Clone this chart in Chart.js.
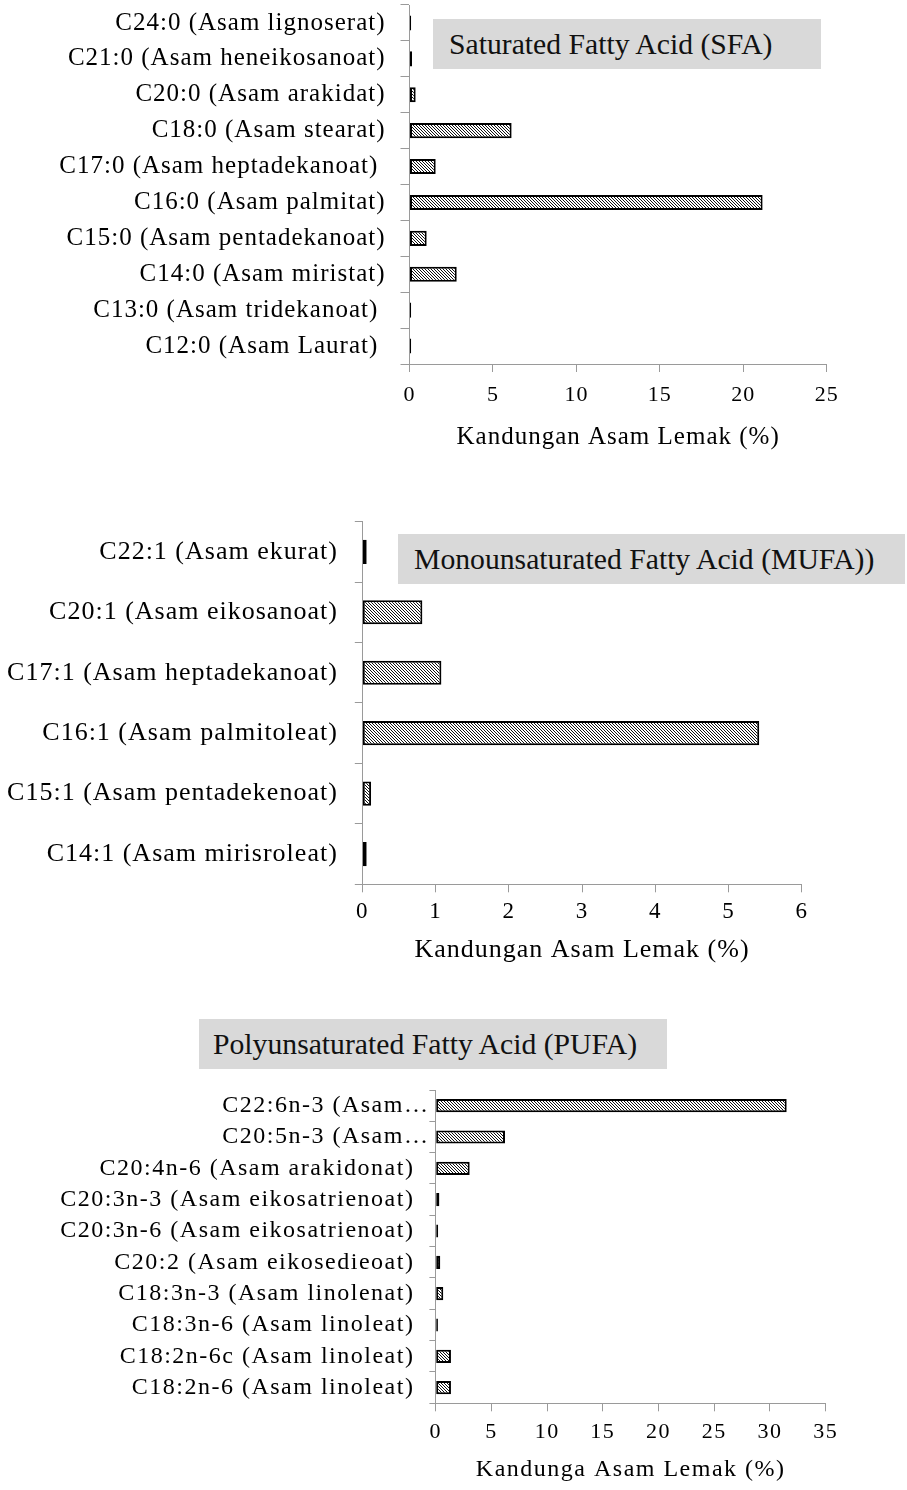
<!DOCTYPE html>
<html>
<head>
<meta charset="utf-8">
<script src="https://cdn.jsdelivr.net/npm/chart.js@4/dist/chart.umd.min.js"></script>
<style>
    body { margin: 0; background: #fff; }
    #page { position: relative; width: 907px; height: 1490px; overflow: hidden; }
    canvas { position: absolute; left: 0; }
    .box {
        position: absolute;
        background: #d9d9d9;
        font-family: "Liberation Serif", "Times New Roman", serif;
        font-size: 29.7px;
        color: #111;
        height: 50px;
        line-height: 50px;
        white-space: nowrap;
        box-sizing: border-box;
    }
</style>
</head>
<body>
<div id="page">
    <canvas id="sfaChart" style="top:0px"></canvas>
    <canvas id="mufaChart" style="top:480px"></canvas>
    <canvas id="pufaChart" style="top:1080px"></canvas>
    <div class="box" style="left:433px; top:19px; width:388px; padding-left:16px;">Saturated Fatty Acid (SFA)</div>
    <div class="box" style="left:398px; top:534px; width:507px; padding-left:16px;">Monounsaturated Fatty Acid (MUFA))</div>
    <div class="box" style="left:199px; top:1019px; width:468px; padding-left:14px;">Polyunsaturated Fatty Acid (PUFA)</div>
</div>
<script>
// SFA (top to bottom)
const sfaLabels = [
    "C24:0 (Asam lignoserat)",
    "C21:0 (Asam heneikosanoat)",
    "C20:0 (Asam arakidat)",
    "C18:0 (Asam stearat)",
    "C17:0 (Asam heptadekanoat) ",
    "C16:0 (Asam palmitat)",
    "C15:0 (Asam pentadekanoat)",
    "C14:0 (Asam miristat)",
    "C13:0 (Asam tridekanoat) ",
    "C12:0 (Asam Laurat) "
];
const sfaValues = [0.1, 0.15, 0.37, 6.12, 1.57, 21.16, 1.03, 2.83, 0.1, 0.1];

// MUFA
const mufaLabels = [
    "C22:1 (Asam ekurat)",
    "C20:1 (Asam eikosanoat)",
    "C17:1 (Asam heptadekanoat)",
    "C16:1 (Asam palmitoleat)",
    "C15:1 (Asam pentadekenoat)",
    "C14:1 (Asam mirisroleat)"
];
const mufaValues = [0.06, 0.82, 1.08, 5.42, 0.12, 0.06];

// PUFA
const pufaLabels = [
    "C22:6n-3 (Asam…",
    "C20:5n-3 (Asam…",
    "C20:4n-6 (Asam arakidonat)",
    "C20:3n-3 (Asam eikosatrienoat)",
    "C20:3n-6 (Asam eikosatrienoat)",
    "C20:2 (Asam eikosedieoat)",
    "C18:3n-3 (Asam linolenat)",
    "C18:3n-6 (Asam linoleat)",
    "C18:2n-6c (Asam linoleat)",
    "C18:2n-6 (Asam linoleat)"
];
const pufaValues = [31.5, 6.22, 3.05, 0.33, 0.22, 0.41, 0.68, 0.2, 1.37, 1.37];

const FONT = "'Liberation Serif', 'Times New Roman', serif";
const AXIS_GRAY = "#9a9a9a";

function hatchPattern() {
    const c = document.createElement("canvas");
    c.width = 3;
    c.height = 3;
    const g = c.getContext("2d");
    g.fillStyle = "#fff";
    g.fillRect(0, 0, 3, 3);
    g.fillStyle = "#111";
    for (let i = 0; i < 3; i++) g.fillRect(i, i, 1, 1);
    return g.createPattern(c, "repeat");
}

// the text in the picture is a bit wider than the plain font
const spacingPlugin = {
    id: "spacing",
    beforeLayout(chart, args, opts) { chart.ctx.letterSpacing = opts.px + "px"; },
    beforeDraw(chart, args, opts) { chart.ctx.letterSpacing = opts.px + "px"; }
};

function renderBars(id, cfg) {
    const canvas = document.getElementById(id);
    canvas.width = 907;
    canvas.height = cfg.height;
    canvas.style.width = "907px";
    canvas.style.height = cfg.height + "px";

    return new Chart(canvas.getContext("2d"), {
        type: "bar",
        data: {
            labels: cfg.labels,
            datasets: [{
                data: cfg.values,
                backgroundColor: hatchPattern(),
                borderColor: "#000",
                borderWidth: 2,
                borderSkipped: false,
                categoryPercentage: 1,
                barPercentage: cfg.barPct
            }]
        },
        plugins: [spacingPlugin],
        options: {
            indexAxis: "y",
            responsive: false,
            animation: false,
            layout: { padding: { top: cfg.padTop, right: cfg.padRight, left: 0, bottom: 0 } },
            plugins: {
                legend: { display: false },
                tooltip: { enabled: false },
                spacing: { px: cfg.spacing }
            },
            scales: {
                y: {
                    offset: true,
                    grid: {
                        offset: true,
                        drawOnChartArea: false,
                        tickLength: cfg.yTick,
                        color: AXIS_GRAY
                    },
                    border: { color: AXIS_GRAY },
                    ticks: {
                        autoSkip: false,
                        padding: cfg.labelPad,
                        color: "#000",
                        font: { family: FONT, size: cfg.labelSize },
                        callback: cfg.labelFmt || function (v, i) { return cfg.labels[i]; }
                    },
                    afterFit(s) {
                        s.width = cfg.axisLeft;
                        s.paddingTop = 0;
                        s.paddingBottom = 0;
                    }
                },
                x: {
                    min: 0,
                    max: cfg.max,
                    grid: {
                        drawOnChartArea: false,
                        tickLength: 8,
                        color: AXIS_GRAY
                    },
                    border: { color: AXIS_GRAY },
                    ticks: {
                        stepSize: cfg.step,
                        padding: cfg.tickPad,
                        color: "#000",
                        font: { family: FONT, size: cfg.tickSize }
                    },
                    title: {
                        display: true,
                        text: cfg.title,
                        color: "#000",
                        font: { family: FONT, size: cfg.titleSize },
                        padding: { top: 0, bottom: cfg.titlePad }
                    },
                    afterFit(s) {
                        s.height = cfg.axisHeight;
                        s.paddingLeft = 0;
                        s.paddingRight = 0;
                    }
                }
            }
        }
    });
}

renderBars("sfaChart", {
    labels: sfaLabels, values: sfaValues,
    height: 460, padTop: 5, padRight: 80.3,
    axisLeft: 409.5, axisHeight: 96,
    max: 25, step: 5, barPct: 0.42,
    yTick: 9, labelPad: 15, labelSize: 25,
    tickSize: 22, tickPad: 10,
    title: "Kandungan Asam Lemak (%)", titleSize: 25, titlePad: 8,
    spacing: 1
});

renderBars("mufaChart", {
    labels: mufaLabels, values: mufaValues,
    height: 500, padTop: 41.6, padRight: 105.3,
    axisLeft: 362.3, axisHeight: 95.7,
    max: 6, step: 1, barPct: 0.40,
    yTick: 7.5, labelPad: 17, labelSize: 26,
    tickSize: 23, tickPad: 6,
    title: "Kandungan Asam Lemak (%)", titleSize: 26, titlePad: 14,
    spacing: 1
});

renderBars("pufaChart", {
    labels: pufaLabels, values: pufaValues,
    height: 410, padTop: 10, padRight: 81.3,
    axisLeft: 435.7, axisHeight: 86.7,
    max: 35, step: 5, barPct: 0.42,
    yTick: 6.3, labelPad: 0, labelSize: 24,
    tickSize: 22, tickPad: 8,
    title: "Kandunga Asam Lemak (%)", titleSize: 24, titlePad: 6,
    spacing: 1.5,
    // cut labels run up to the axis, the rest stop a little short of it
    labelFmt: function (v, i) {
        const l = pufaLabels[i];
        return l.endsWith("…") ? l : l + "  ";
    }
});
</script>
</body>
</html>
